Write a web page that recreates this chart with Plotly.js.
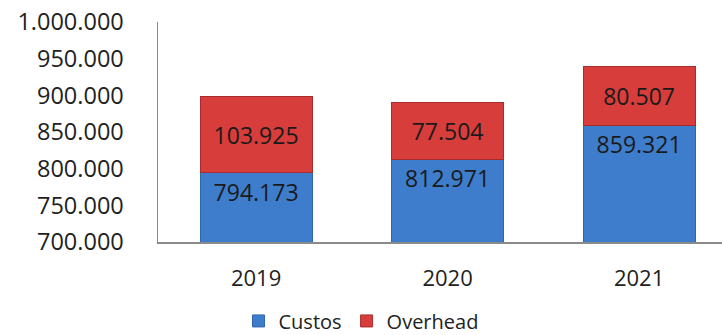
<!DOCTYPE html>
<html><head><meta charset="utf-8">
<script src="https://cdn.plot.ly/plotly-3.0.1.min.js"></script>
<style>html,body{margin:0;padding:0;background:#fff}#c{width:722px;height:335px}</style>
</head><body><div id="c"></div>
<script>
const years = ['2019', '2020', '2021'];
const custos = [794173, 812971, 859321];
const overhead = [103925, 77504, 80507];
const yTicks = [700000, 750000, 800000, 850000, 900000, 950000, 1000000];

const font = 'Open Sans, sans-serif';
const data = [
  {type: 'bar', name: 'Custos', x: years, y: custos,
   marker: {color: '#3e7dcc', line: {color: '#2f68ad', width: 1}},
   texttemplate: '%{y:,.0f}', textposition: 'inside', insidetextanchor: 'end',
   textfont: {family: font, size: 23, color: '#1a1a1a'}, hoverinfo: 'none'},
  {type: 'bar', name: 'Overhead', x: years, y: overhead,
   marker: {color: '#d63d3b', line: {color: '#a82c2b', width: 1}},
   texttemplate: '%{y:,.0f}', textposition: 'inside', insidetextanchor: 'middle',
   textfont: {family: font, size: 23, color: '#1a1a1a'}, hoverinfo: 'none'}
];
const layout = {
  width: 722, height: 335,
  margin: {l: 158, r: 0, t: 22, b: 93},
  barmode: 'stack', bargap: 0.415,
  separators: ',.',
  paper_bgcolor: '#fff', plot_bgcolor: '#fff',
  font: {family: font, size: 22, color: '#222'},
  xaxis: {type: 'category', range: [-0.512, 2.433], showline: true, linecolor: '#8a8a8a', linewidth: 1.5,
          ticks: '', ticklabelstandoff: 16, tickfont: {family: font, size: 22, color: '#222'}, fixedrange: true, automargin: false},
  yaxis: {range: [700000, 1000000], tickvals: yTicks, tickformat: ',.0f', showgrid: false, zeroline: false,
          showline: true, linecolor: '#8a8a8a', linewidth: 1.5, ticks: '', ticklabelstandoff: 28,
          tickfont: {family: font, size: 23.5, color: '#222'}, fixedrange: true, automargin: false},
  showlegend: true,
  legend: {orientation: 'h', x: 0.5, xref: 'container', xanchor: 'center', y: 0.042, yref: 'container', yanchor: 'middle',
           font: {family: font, size: 20, color: '#222'}, itemwidth: 30, traceorder: 'normal'}
};
Plotly.newPlot('c', data, layout, {displayModeBar: false, staticPlot: true});
</script></body></html>
